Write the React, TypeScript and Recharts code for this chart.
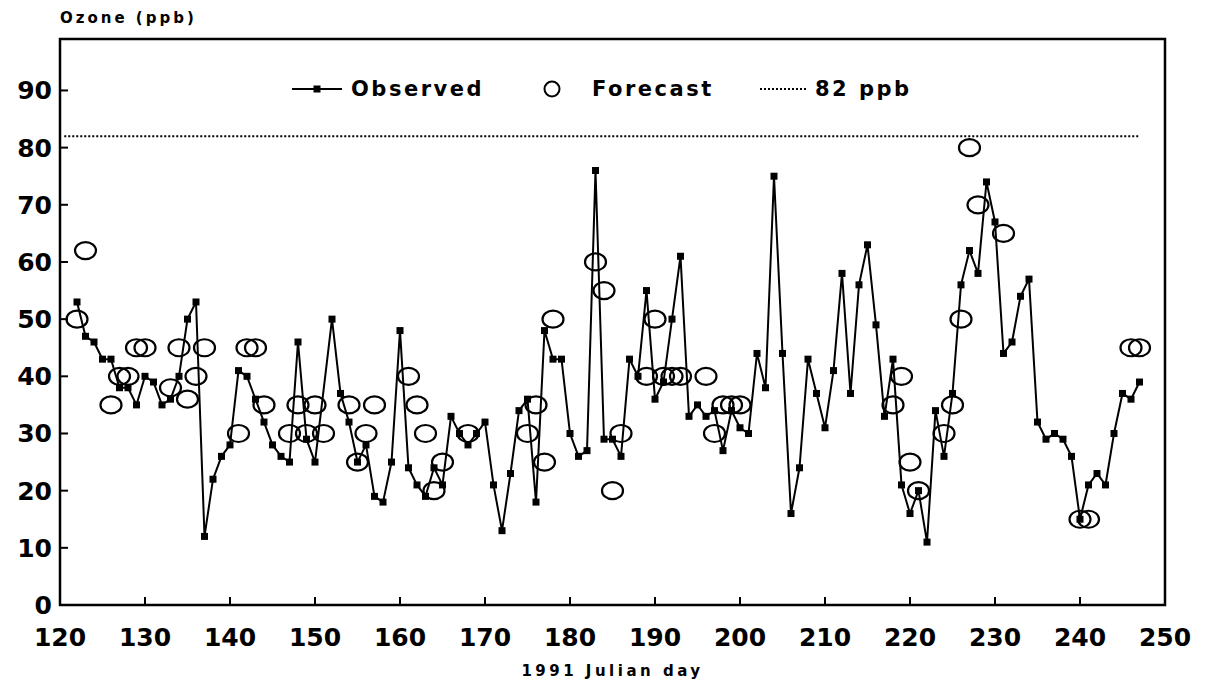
import { ComposedChart, Line, Scatter, XAxis, YAxis, ReferenceLine, ReferenceArea } from 'recharts'

const FONT = "'DejaVu Sans', Verdana, sans-serif"

// observed ozone, one value per day starting at day 122 (day 151 missing)
const observedStartDay = 122
const observed: (number | null)[] = [
  53, 47, 46, 43, 43, 38, 38, 35, 40, 39, // 122-131
  35, 36, 40, 50, 53, 12, 22, 26, 28, 41, // 132-141
  40, 36, 32, 28, 26, 25, 46, 29, 25, null, // 142-151
  50, 37, 32, 25, 28, 19, 18, 25, 48, 24, // 152-161
  21, 19, 24, 21, 33, 30, 28, 30, 32, 21, // 162-171
  13, 23, 34, 36, 18, 48, 43, 43, 30, 26, // 172-181
  27, 76, 29, 29, 26, 43, 40, 55, 36, 39, // 182-191
  50, 61, 33, 35, 33, 34, 27, 34, 31, 30, // 192-201
  44, 38, 75, 44, 16, 24, 43, 37, 31, 41, // 202-211
  58, 37, 56, 63, 49, 33, 43, 21, 16, 20, // 212-221
  11, 34, 26, 37, 56, 62, 58, 74, 67, 44, // 222-231
  46, 54, 57, 32, 29, 30, 29, 26, 15, 21, // 232-241
  23, 21, 30, 37, 36, 39, // 242-247
]

const forecastDays = [
  122, 123, 126, 127, 128, 129, 130, 133, 134, 135, 136, 137, 141, 142, 143, 144,
  147, 148, 149, 150, 151, 154, 155, 156, 157, 161, 162, 163, 164, 165, 168,
  175, 176, 177, 178, 183, 184, 185, 186, 189, 190, 191, 192, 193, 196, 197,
  198, 199, 200, 218, 219, 220, 221, 224, 225, 226, 227, 228, 231, 240, 241, 246, 247,
]
const forecastValues = [
  50, 62, 35, 40, 40, 45, 45, 38, 45, 36, 40, 45, 30, 45, 45, 35,
  30, 35, 30, 35, 30, 35, 25, 30, 35, 40, 35, 30, 20, 25, 30,
  30, 35, 25, 50, 60, 55, 20, 30, 40, 50, 40, 40, 40, 40, 30,
  35, 35, 35, 35, 40, 25, 20, 30, 35, 50, 80, 70, 65, 15, 15, 45, 45,
]

const xTicks = [120, 130, 140, 150, 160, 170, 180, 190, 200, 210, 220, 230, 240, 250]
const yTicks = [0, 10, 20, 30, 40, 50, 60, 70, 80, 90]
const threshold = 82
const thresholdFrom = 120.5
const thresholdTo = 247

const obsData = observed.map((v, i) => ({ day: observedStartDay + i, observed: v }))
const fcData = forecastDays.map((d, i) => ({ day: d, forecast: forecastValues[i] }))

const YMAX = 99

function SquareDot(props: any) {
  const { cx, cy, value } = props
  if (value == null || cx == null || cy == null) return <g />
  return <rect x={cx - 3.5} y={cy - 3.5} width={7} height={7} fill="#000" />
}

function OpenEllipse(props: any) {
  const { cx, cy } = props
  return <ellipse cx={cx} cy={cy} rx={10.5} ry={8.5} fill="none" stroke="#000" strokeWidth={2.2} />
}

function XTick({ x, y, payload }: any) {
  const axisY = y - 10
  return (
    <g>
      <line x1={x} x2={x} y1={axisY} y2={axisY - 8} stroke="#000" strokeWidth={2} />
      <text x={x} y={axisY + 41} textAnchor="middle" fontFamily={FONT} fontWeight="bold" fontSize={25} fill="#000">
        {payload.value}
      </text>
    </g>
  )
}

function YTick({ x, y, payload }: any) {
  const axisX = x + 9
  return (
    <g>
      <line x1={axisX} x2={axisX + 8} y1={y} y2={y} stroke="#000" strokeWidth={2} />
      <text x={x + 1} y={y + 9} textAnchor="end" fontFamily={FONT} fontWeight="bold" fontSize={25} fill="#000">
        {payload.value}
      </text>
    </g>
  )
}

const legendText = { fontFamily: FONT, fontWeight: 'bold' as const, fontSize: 21, letterSpacing: 2.5, position: 'absolute' as const, top: 75, lineHeight: '28px' }

export default function App() {
  return (
    <div style={{ position: 'absolute', left: 0, top: 0, width: 1206, height: 681, background: '#fff' }}>
      <ComposedChart width={1206} height={681} data={obsData} margin={{ top: 39, right: 41, bottom: 30, left: 0 }}>
        <XAxis dataKey="day" type="number" domain={[120, 250]} ticks={xTicks} allowDataOverflow
          axisLine={false} tickLine={false} tickSize={0} tickMargin={10} height={46} tick={<XTick />} interval={0} />
        <YAxis type="number" domain={[0, YMAX]} ticks={yTicks} allowDataOverflow
          axisLine={false} tickLine={false} tickSize={0} tickMargin={9} width={60} tick={<YTick />} interval={0} />
        <ReferenceArea x1={120} x2={250} y1={0} y2={YMAX} fill="none" stroke="#000" strokeWidth={2.5} ifOverflow="visible" />
        <ReferenceLine segment={[{ x: thresholdFrom, y: threshold }, { x: thresholdTo, y: threshold }]}
          stroke="#000" strokeWidth={2} strokeDasharray="2 2" />
        <Line dataKey="observed" stroke="#000" strokeWidth={2} connectNulls dot={<SquareDot />} activeDot={false}
          isAnimationActive={false} />
        <Scatter data={fcData} dataKey="forecast" shape={<OpenEllipse />} isAnimationActive={false} />
      </ComposedChart>

      <div style={{ position: 'absolute', left: 60, top: 9, fontFamily: FONT, fontWeight: 'bold', fontSize: 15, letterSpacing: 3 }}>
        Ozone (ppb)
      </div>

      <svg style={{ position: 'absolute', left: 292, top: 82 }} width={52} height={14}>
        <line x1={0} x2={50} y1={7} y2={7} stroke="#000" strokeWidth={2} />
        <rect x={21.5} y={3.5} width={7} height={7} fill="#000" />
      </svg>
      <div style={{ ...legendText, left: 351 }}>Observed</div>

      <svg style={{ position: 'absolute', left: 542, top: 80 }} width={20} height={18}>
        <ellipse cx={10} cy={9} rx={7.5} ry={7.5} fill="none" stroke="#000" strokeWidth={2} />
      </svg>
      <div style={{ ...legendText, left: 592 }}>Forecast</div>

      <svg style={{ position: 'absolute', left: 760, top: 82 }} width={50} height={14}>
        <line x1={0} x2={48} y1={7} y2={7} stroke="#000" strokeWidth={2} strokeDasharray="2 2" />
      </svg>
      <div style={{ ...legendText, left: 815 }}>82 ppb</div>

      <div style={{ position: 'absolute', left: 0, width: 1225, top: 662, textAlign: 'center', fontFamily: FONT, fontWeight: 'bold', fontSize: 15, letterSpacing: 3.5 }}>
        1991 Julian day
      </div>
    </div>
  )
}
